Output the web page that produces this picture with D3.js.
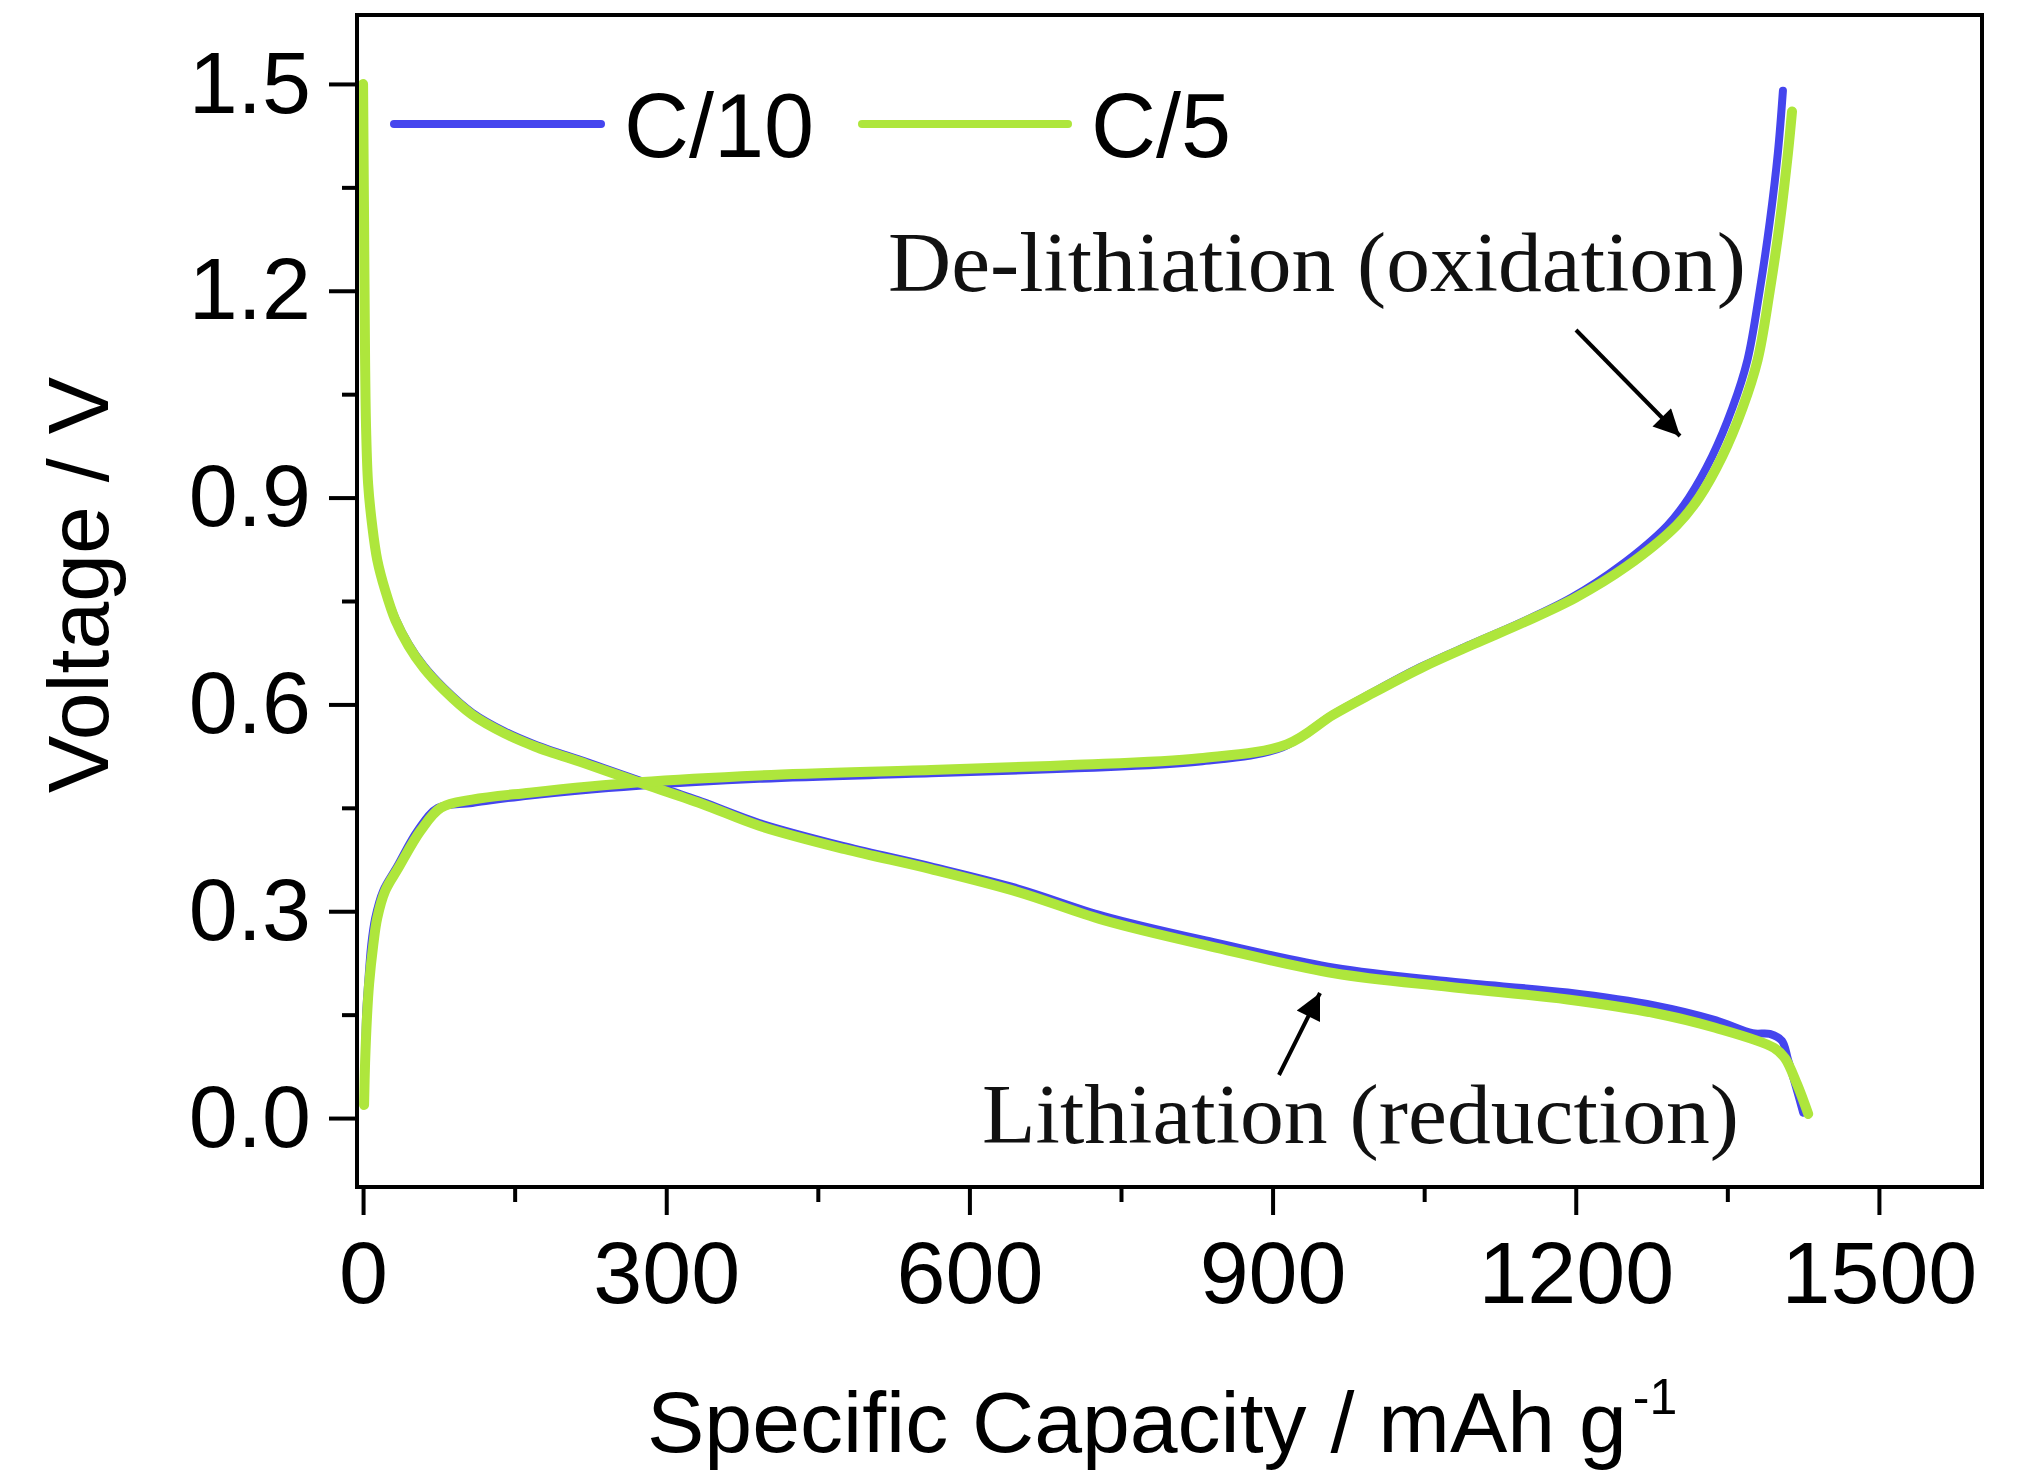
<!DOCTYPE html>
<html>
<head>
<meta charset="utf-8">
<script src="https://cdn.jsdelivr.net/npm/d3@7"></script>
<style>
  html, body { margin: 0; padding: 0; background: #ffffff; }
  svg { display: block; }
  .sans { font-family: "Liberation Sans", Arial, sans-serif; }
  .serif { font-family: "Liberation Serif", "Times New Roman", serif; }
</style>
</head>
<body>
<svg id="chart" width="2018" height="1471"></svg>
<script>
// ---------------- DATA ----------------
const xTicks = [0, 300, 600, 900, 1200, 1500];
const xMinorTicks = [150, 450, 750, 1050, 1350];
const yTicks = [0.0, 0.3, 0.6, 0.9, 1.2, 1.5];
const yMinorTicks = [0.15, 0.45, 0.75, 1.05, 1.35];
const seriesNames = ["C/10", "C/5"];
const seriesColors = ["#4545ee", "#aee63c"];

// Lithiation (discharge) curves  [capacity mAh/g, voltage V]
const lithC10 = [[0,1.50],[1,1.30],[2,1.10],[3,1.00],[5,0.92],[9,0.86],[14,0.81],[22,0.765],[32,0.725],[45,0.688],[60,0.656],[80,0.624],[108,0.588],[140,0.561],[170,0.542],[222,0.516],[273,0.490],[335,0.459],[392,0.428],[477,0.394],[562,0.365],[648,0.333],[733,0.293],[845,0.254],[961,0.218],[1076,0.198],[1192,0.182],[1279,0.163],[1338,0.142],[1375,0.123],[1392,0.122],[1404,0.112],[1410,0.085],[1418,0.045],[1425,0.008]];
const lithC5 = [[0,1.50],[1,1.30],[2,1.10],[3,1.00],[5,0.92],[9,0.86],[14,0.81],[22,0.765],[32,0.722],[45,0.685],[60,0.653],[80,0.621],[108,0.585],[140,0.558],[170,0.539],[222,0.513],[273,0.487],[335,0.456],[392,0.424],[477,0.390],[562,0.361],[648,0.328],[733,0.287],[845,0.247],[961,0.210],[1076,0.190],[1192,0.172],[1279,0.152],[1338,0.131],[1396,0.102],[1407,0.087],[1419,0.049],[1430,0.006]];

// De-lithiation (charge) curves
const delithC10 = [[1,0.019],[2,0.08],[3,0.15],[5,0.195],[8,0.25],[12,0.29],[20,0.33],[33,0.363],[54,0.417],[74,0.450],[108,0.457],[165,0.468],[273,0.482],[392,0.492],[562,0.500],[700,0.507],[828,0.517],[910,0.538],[956,0.582],[996,0.615],[1046,0.654],[1096,0.687],[1146,0.719],[1196,0.755],[1243,0.800],[1291,0.860],[1312,0.900],[1335,0.960],[1355,1.030],[1370,1.100],[1382,1.200],[1392,1.300],[1400,1.400],[1405,1.490]];
const delithC5 = [[1,0.019],[2,0.08],[4,0.15],[6,0.195],[10,0.25],[14,0.29],[22,0.33],[35,0.363],[57,0.417],[77,0.450],[108,0.462],[165,0.472],[273,0.487],[392,0.497],[562,0.505],[700,0.512],[828,0.522],[914,0.542],[960,0.585],[1000,0.617],[1050,0.655],[1100,0.688],[1150,0.720],[1200,0.755],[1250,0.800],[1300,0.860],[1322,0.900],[1345,0.960],[1365,1.030],[1380,1.100],[1392,1.200],[1402,1.300],[1410,1.400],[1414,1.460]];

const annotations = ["De-lithiation (oxidation)", "Lithiation (reduction)"];
const xTitle = "Specific Capacity / mAh g";
const xTitleSup = "-1";
const yTitle = "Voltage / V";

// ---------------- LAYOUT ----------------
const svg = d3.select("#chart");
const L = 357, R = 1982, T = 15, B = 1187;
const x = d3.scaleLinear().domain([-6, 1602]).range([L, R]);
const y = d3.scaleLinear().domain([-0.1, 1.6]).range([B, T]);

const line = d3.line().x(d => x(d[0])).y(d => y(d[1])).curve(d3.curveCatmullRom.alpha(0.5));

const defs = svg.append("defs");
defs.append("clipPath").attr("id", "clip")
  .append("rect").attr("x", L).attr("y", T).attr("width", R - L).attr("height", B - T);

const plot = svg.append("g").attr("clip-path", "url(#clip)");
// blue first, green on top
[[lithC10, 0, 8], [delithC10, 0, 8], [lithC5, 1, 10], [delithC5, 1, 10]].forEach(([data, si, w]) => {
  plot.append("path").datum(data)
    .attr("d", line)
    .attr("fill", "none")
    .attr("stroke", seriesColors[si])
    .attr("stroke-width", w)
    .attr("stroke-linejoin", "round")
    .attr("stroke-linecap", "round");
});

// ---------------- AXES ----------------
const axisStyle = g => {
  g.select(".domain").remove();
  g.selectAll("line").attr("stroke", "#000").attr("stroke-width", 4);
  g.selectAll("text").attr("class", "sans").attr("font-size", 88).attr("fill", "#000");
};

svg.append("g").attr("transform", `translate(0,${B})`)
  .call(d3.axisBottom(x).tickValues(xTicks).tickSize(28).tickPadding(26).tickFormat(d3.format("d")))
  .call(axisStyle);
svg.append("g").attr("transform", `translate(0,${B})`)
  .call(d3.axisBottom(x).tickValues(xMinorTicks).tickSize(15).tickFormat(""))
  .call(axisStyle);

svg.append("g").attr("transform", `translate(${L},0)`)
  .call(d3.axisLeft(y).tickValues(yTicks).tickSize(28).tickPadding(18).tickFormat(d3.format(".1f")))
  .call(axisStyle);
svg.append("g").attr("transform", `translate(${L},0)`)
  .call(d3.axisLeft(y).tickValues(yMinorTicks).tickSize(15).tickFormat(""))
  .call(axisStyle);

// frame
svg.append("rect").attr("x", L).attr("y", T).attr("width", R - L).attr("height", B - T)
  .attr("fill", "none").attr("stroke", "#000").attr("stroke-width", 4);

// axis titles
const xt = svg.append("text").attr("class", "sans").attr("font-size", 86)
  .attr("x", 647).attr("y", 1452).attr("fill", "#000");
xt.append("tspan").text(xTitle);
xt.append("tspan").attr("font-size", 50).attr("dy", -38).attr("dx", 6).text(xTitleSup);

svg.append("text").attr("class", "sans").attr("font-size", 86)
  .attr("text-anchor", "middle").attr("fill", "#000")
  .attr("transform", "translate(108,585) rotate(-90)")
  .text(yTitle);

// ---------------- LEGEND ----------------
const legend = [
  { x1: 394, x2: 601, tx: 624 },
  { x1: 862, x2: 1068, tx: 1091 }
];
legend.forEach((l, i) => {
  svg.append("line").attr("x1", l.x1).attr("x2", l.x2).attr("y1", 124).attr("y2", 124)
    .attr("stroke", seriesColors[i]).attr("stroke-width", 8).attr("stroke-linecap", "round");
  svg.append("text").attr("class", "sans").attr("font-size", 90).attr("fill", "#000")
    .attr("x", l.tx).attr("y", 157).text(seriesNames[i]);
});

// ---------------- ANNOTATIONS ----------------
svg.append("text").attr("class", "serif").attr("font-size", 84).attr("fill", "#111")
  .attr("x", 888).attr("y", 291).attr("textLength", 858).attr("lengthAdjust", "spacingAndGlyphs")
  .text(annotations[0]);
svg.append("text").attr("class", "serif").attr("font-size", 84).attr("fill", "#111")
  .attr("x", 982).attr("y", 1143).attr("textLength", 757).attr("lengthAdjust", "spacingAndGlyphs")
  .text(annotations[1]);

defs.append("marker").attr("id", "arrow")
  .attr("viewBox", "0 0 10 10").attr("refX", 10).attr("refY", 5)
  .attr("markerWidth", 8).attr("markerHeight", 6.5).attr("markerUnits", "strokeWidth")
  .attr("orient", "auto")
  .append("path").attr("d", "M0,0 L10,5 L0,10 Z").attr("fill", "#000");

const arrows = [[1576, 330, 1680, 436], [1279, 1075, 1320, 993]];
arrows.forEach(a => {
  svg.append("line").attr("x1", a[0]).attr("y1", a[1]).attr("x2", a[2]).attr("y2", a[3])
    .attr("stroke", "#000").attr("stroke-width", 4).attr("marker-end", "url(#arrow)");
});
</script>
</body>
</html>
